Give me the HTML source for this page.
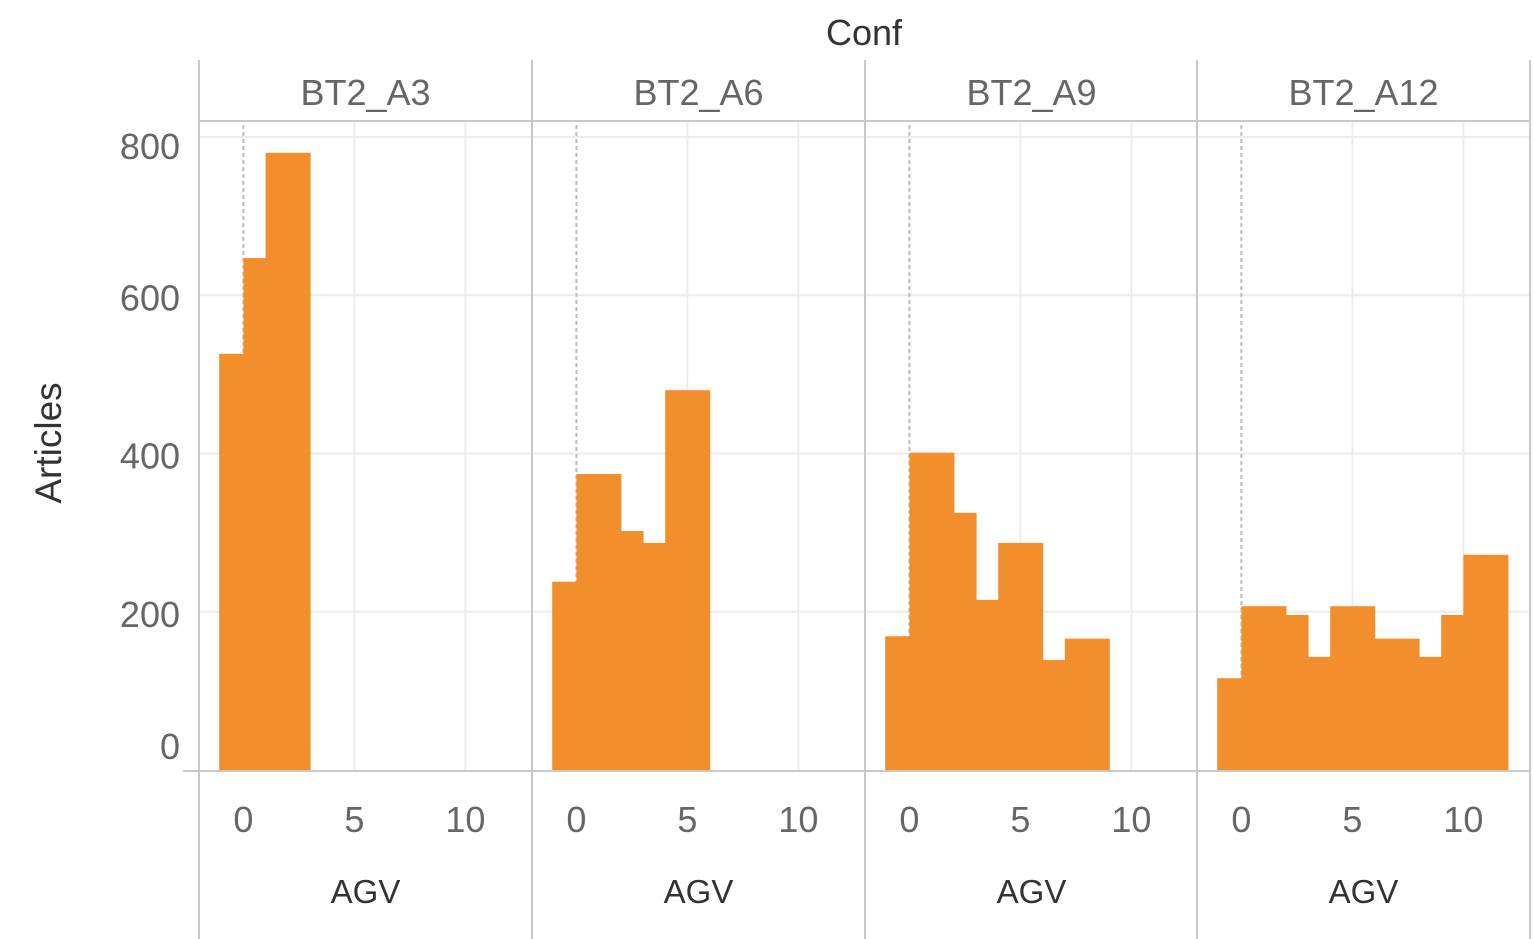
<!DOCTYPE html>
<html><head><meta charset="utf-8"><style>
body{margin:0;background:#fff;}
svg{display:block;font-family:"Liberation Sans","DejaVu Sans",sans-serif;}
</style></head><body>
<svg id="chart" width="1533" height="939"></svg>
<script>
const panels = ["BT2_A3","BT2_A6","BT2_A9","BT2_A12"];
const binStart = [-1,0,1,2,3,4,5,6,7,8,9,10,11];
const seriesA3 = [526,647,780,780];
const seriesA6 = [238,374,374,302,287,480,480];
const seriesA9 = [169,401,401,325,215,287,287,139,166,166];
const seriesA12 = [116,207,207,196,143,207,207,166,166,143,196,272,272];
const allSeries = [seriesA3,seriesA6,seriesA9,seriesA12];
const yTicks = [0,200,400,600,800];
const xTicks = [0,5,10];

const NS="http://www.w3.org/2000/svg";
const svg=document.getElementById('chart');
function mk(tag,attrs,parent){const e=document.createElementNS(NS,tag);for(const k in attrs)e.setAttribute(k,attrs[k]);(parent||svg).appendChild(e);return e;}
const panelX0=[199,532,865,1197], panelW=333;
const y0=770, yPer=(770-137)/800;
function y(v){return y0-v*yPer;}
function x(p,v){return panelX0[p]+(v+2)*22.2;}

let t=mk('text',{x:864,y:45,'text-anchor':'middle','font-size':36,fill:'#333'});t.textContent='Conf';

t=mk('text',{x:0,y:0,'text-anchor':'middle','font-size':37,fill:'#333',transform:'translate(61,443) rotate(-90)'});t.textContent='Articles';


yTicks.forEach(v=>{
  if(v>0){const l=mk('line',{x1:199,x2:1530,y1:y(v),y2:y(v),stroke:'#ececec','stroke-width':2});
  }
  const ty = v===0 ? y(v)-11 : (v===800 ? y(v)+22 : y(v)+15);
  const tx=mk('text',{x:180,y:ty,'text-anchor':'end','font-size':36,fill:'#666'});
  tx.textContent=v;
  
});

panels.forEach((name,p)=>{
  const g=mk('g',{});
  
  
  const h=mk('text',{x:panelX0[p]+panelW/2,y:105,'text-anchor':'middle','font-size':36,fill:'#666'},g);h.textContent=name;
  
  xTicks.forEach(v=>{
    if(v>0){const l=mk('line',{x1:x(p,v),x2:x(p,v),y1:121,y2:770,stroke:'#ececec','stroke-width':2},g);
    }
    const tx=mk('text',{x:x(p,v),y:832,'text-anchor':'middle','font-size':36,fill:'#666'},g);tx.textContent=v;
    
  });
  const d=mk('line',{x1:x(p,0),x2:x(p,0),y1:125,y2:770,stroke:'#bbb','stroke-width':2,'stroke-dasharray':'4,3'},g);
  
  allSeries[p].forEach((v,i)=>{
    const b=binStart[i];
    const x1 = b===-1 ? x(p,b)-2 : x(p,b);
    const r=mk('rect',{x:x1,y:y(v),width:x(p,b+1)-x1+0.6,height:y0-y(v),fill:'#f28e2c'},g);
    
    
  });
  const a=mk('text',{x:panelX0[p]+panelW/2,y:903,'text-anchor':'middle','font-size':33,fill:'#333'},g);a.textContent='AGV';
  
});

[199,532,865,1197,1530].forEach(xx=>{
  const l=mk('line',{x1:xx,x2:xx,y1:60,y2:939,stroke:'#c8c8c8','stroke-width':2});
  
});
let l=mk('line',{x1:199,x2:1530,y1:121,y2:121,stroke:'#c8c8c8','stroke-width':2});

l=mk('line',{x1:183,x2:1530,y1:771,y2:771,stroke:'#c8c8c8','stroke-width':2});

</script>
</body></html>
